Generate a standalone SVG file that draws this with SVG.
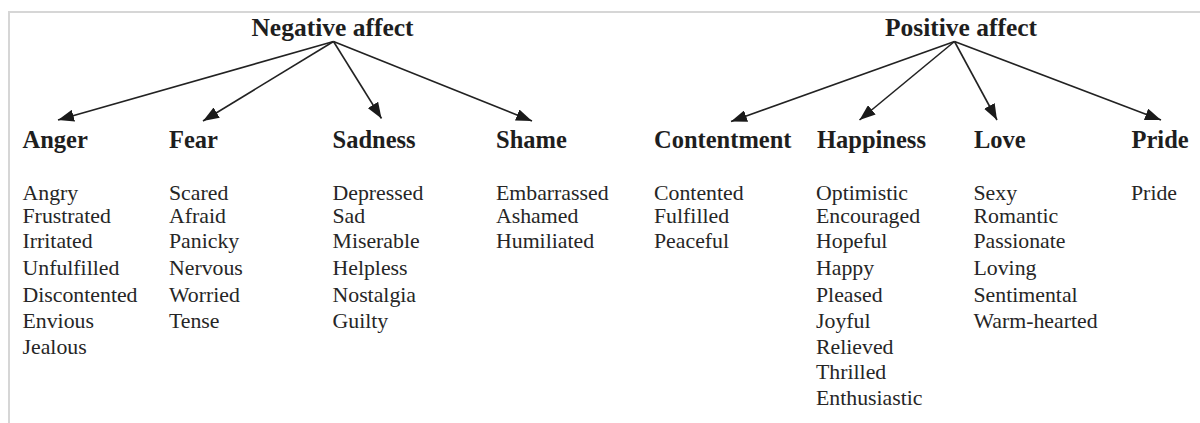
<svg xmlns="http://www.w3.org/2000/svg" width="1200" height="423" viewBox="0 0 1200 423">
  <style>
    .frame { stroke: #d6d6d6; stroke-width: 2; fill: none; }
    .root { font-family: "Liberation Serif", "Times New Roman", serif; font-weight: bold; font-size: 25.5px; fill: #1e1e1e; text-anchor: middle; }
    .cat { font-family: "Liberation Serif", "Times New Roman", serif; font-weight: bold; font-size: 24.5px; fill: #1e1e1e; }
    .item { font-family: "Liberation Serif", "Times New Roman", serif; font-size: 21.8px; fill: #262626; }
    .edge { stroke: #222; stroke-width: 1.6; fill: none; marker-end: url(#arrow); }
  </style>
  <defs>
    <marker id="arrow" viewBox="0 0 16 12" refX="16" refY="6" markerWidth="16" markerHeight="12" markerUnits="userSpaceOnUse" orient="auto">
      <path d="M0,0 L16,6 L0,12 z" fill="#1a1a1a"/>
    </marker>
  </defs>

  <rect width="1200" height="423" fill="#ffffff"/>
  <!-- page frame: top and left rules -->
  <path class="frame" d="M9,423 V12 H1200"/>

  <g id="negative-affect"><text class="root" x="332.5" y="36">Negative affect</text></g>
  <g id="positive-affect"><text class="root" x="961" y="36">Positive affect</text></g>

  <g id="connectors">
    <line class="edge" x1="333.5" y1="41.5" x2="58" y2="120"/>
    <line class="edge" x1="333.5" y1="41.5" x2="203" y2="121"/>
    <line class="edge" x1="333.5" y1="41.5" x2="381.5" y2="118.5"/>
    <line class="edge" x1="333.5" y1="41.5" x2="532" y2="121"/>
    <line class="edge" x1="954.5" y1="41.5" x2="731" y2="121.5"/>
    <line class="edge" x1="954.5" y1="41.5" x2="859.5" y2="120"/>
    <line class="edge" x1="954.5" y1="41.5" x2="997" y2="120"/>
    <line class="edge" x1="954.5" y1="41.5" x2="1161" y2="120"/>
  </g>

  <g id="anger">
    <text class="cat" x="22.5" y="148">Anger</text>
    <text class="item" x="22.5" y="200">Angry</text>
    <text class="item" x="22.5" y="222.5">Frustrated</text>
    <text class="item" x="22.5" y="247.5">Irritated</text>
    <text class="item" x="22.5" y="275">Unfulfilled</text>
    <text class="item" x="22.5" y="301.5">Discontented</text>
    <text class="item" x="22.5" y="327.5">Envious</text>
    <text class="item" x="22.5" y="353.5">Jealous</text>
  </g>

  <g id="fear">
    <text class="cat" x="169" y="148">Fear</text>
    <text class="item" x="169" y="200">Scared</text>
    <text class="item" x="169" y="222.5">Afraid</text>
    <text class="item" x="169" y="247.5">Panicky</text>
    <text class="item" x="169" y="275">Nervous</text>
    <text class="item" x="169" y="301.5">Worried</text>
    <text class="item" x="169" y="327.5">Tense</text>
  </g>

  <g id="sadness">
    <text class="cat" x="332.5" y="148">Sadness</text>
    <text class="item" x="332.5" y="200">Depressed</text>
    <text class="item" x="332.5" y="222.5">Sad</text>
    <text class="item" x="332.5" y="247.5">Miserable</text>
    <text class="item" x="332.5" y="275">Helpless</text>
    <text class="item" x="332.5" y="301.5">Nostalgia</text>
    <text class="item" x="332.5" y="327.5">Guilty</text>
  </g>

  <g id="shame">
    <text class="cat" x="496" y="148">Shame</text>
    <text class="item" x="496" y="200">Embarrassed</text>
    <text class="item" x="496" y="222.5">Ashamed</text>
    <text class="item" x="496" y="247.5">Humiliated</text>
  </g>

  <g id="contentment">
    <text class="cat" x="654" y="148">Contentment</text>
    <text class="item" x="654" y="200">Contented</text>
    <text class="item" x="654" y="222.5">Fulfilled</text>
    <text class="item" x="654" y="247.5">Peaceful</text>
  </g>

  <g id="happiness">
    <text class="cat" x="817" y="148">Happiness</text>
    <text class="item" x="816" y="200">Optimistic</text>
    <text class="item" x="816" y="222.5">Encouraged</text>
    <text class="item" x="816" y="247.5">Hopeful</text>
    <text class="item" x="816" y="275">Happy</text>
    <text class="item" x="816" y="301.5">Pleased</text>
    <text class="item" x="816" y="327.5">Joyful</text>
    <text class="item" x="816" y="353.5">Relieved</text>
    <text class="item" x="816" y="379">Thrilled</text>
    <text class="item" x="816" y="405">Enthusiastic</text>
  </g>

  <g id="love">
    <text class="cat" x="974" y="148">Love</text>
    <text class="item" x="973.5" y="200">Sexy</text>
    <text class="item" x="973.5" y="222.5">Romantic</text>
    <text class="item" x="973.5" y="247.5">Passionate</text>
    <text class="item" x="973.5" y="275">Loving</text>
    <text class="item" x="973.5" y="301.5">Sentimental</text>
    <text class="item" x="973.5" y="327.5">Warm-hearted</text>
  </g>

  <g id="pride">
    <text class="cat" x="1131.5" y="148">Pride</text>
    <text class="item" x="1131" y="200">Pride</text>
  </g>
</svg>
